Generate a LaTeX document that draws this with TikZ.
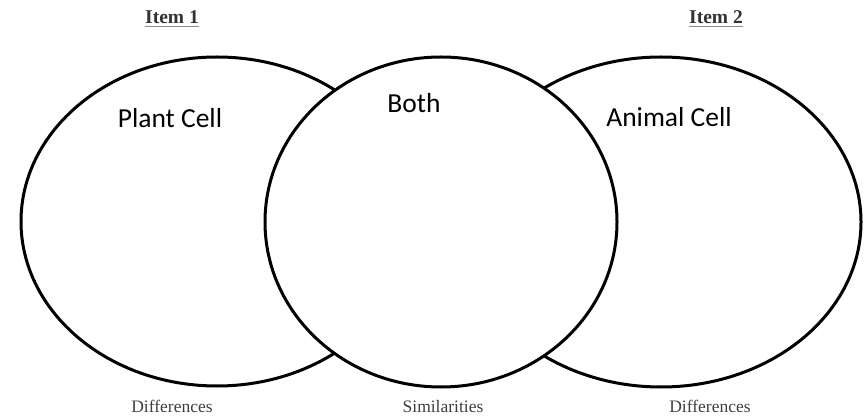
\documentclass[tikz,border=0pt]{standalone}
\usepackage{fontspec}
\setmainfont{Liberation Serif}
\newfontfamily\calib{Carlito}
\begin{document}
\begin{tikzpicture}[x=1pt,y=-1pt,
  ring/.style={line width=3pt, draw=black},
  celllabel/.style={font=\calib\fontsize{27.5}{30}\selectfont, text=black},
  itemlabel/.style={font=\bfseries\fontsize{19.5}{21}\selectfont, text=black!80, inner sep=0pt},
  footlabel/.style={font=\fontsize{17.5}{19}\selectfont, text=black!75, inner sep=0pt, anchor=base}]
\useasboundingbox (0,0) rectangle (867,419);
\fill[white] (0,0) rectangle (867,419);
% outer ellipses
\draw[ring] (217,221.5) ellipse [x radius=196, y radius=164.5];
\draw[ring] (661,222) ellipse [x radius=200, y radius=165];
% middle ellipse on top
\draw[ring, fill=white] (441,222) ellipse [x radius=176, y radius=165];
% labels
\node[celllabel] (plant) at (170,118) {Plant Cell};
\node[celllabel] (both) at (414,103) {Both};
\node[celllabel] (animal) at (669,117) {Animal Cell};
\node[itemlabel] (item1) at (172,17) {Item 1};
\node[itemlabel] (item2) at (716,17) {Item 2};
\draw[black!45, line width=1.3pt] ([yshift=-3pt]item1.south west) -- ([yshift=-3pt]item1.south east);
\draw[black!45, line width=1.3pt] ([yshift=-3pt]item2.south west) -- ([yshift=-3pt]item2.south east);
\node[footlabel] (diff1) at (172,412) {Differences};
\node[footlabel] (sim) at (443,412) {Similarities};
\node[footlabel] (diff2) at (710,412) {Differences};
\end{tikzpicture}
\end{document}
